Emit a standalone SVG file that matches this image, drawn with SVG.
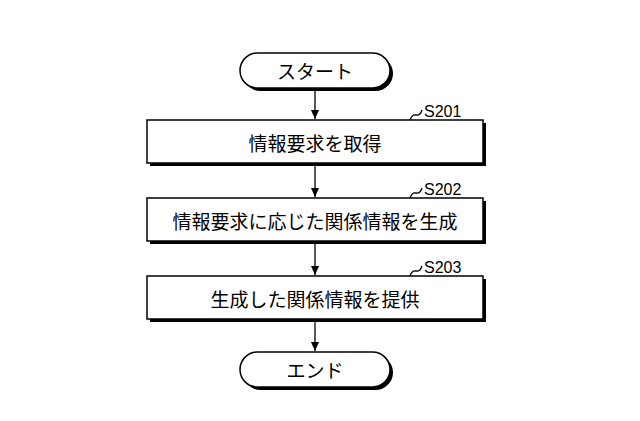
<svg xmlns="http://www.w3.org/2000/svg" width="640" height="421" viewBox="0 0 640 421">
<style>
.s{fill:#000}.b{fill:#fff;stroke:#000;stroke-width:1.5}
.t{font-family:"Noto Sans CJK JP",sans-serif;font-size:19px;text-anchor:middle;dominant-baseline:central}
.l{font-family:"Liberation Sans",sans-serif;font-size:16px}
.c{fill:none;stroke:#000;stroke-width:1.3}
</style>
<defs><marker id="a" markerWidth="10" markerHeight="10" refX="9" refY="5" orient="auto" markerUnits="userSpaceOnUse"><path d="M0,1 L9,5 L0,9 Z"/></marker></defs>
<rect width="640" height="421" fill="#fff"/>
<g id="start"><rect class="s" x="243" y="56" width="150" height="35" rx="17.5"/><rect class="b" x="240" y="53" width="150" height="35" rx="17.5"/><text class="t" x="315" y="70">スタート</text></g>
<g id="s201"><rect class="s" x="150" y="123" width="336" height="43"/><rect class="b" x="147" y="120" width="336" height="43"/><text class="t" x="315" y="142">情報要求を取得</text></g>
<g id="s202"><rect class="s" x="150" y="201" width="336" height="43"/><rect class="b" x="147" y="198" width="336" height="43"/><text class="t" x="315" y="220">情報要求に応じた関係情報を生成</text></g>
<g id="s203"><rect class="s" x="150" y="279" width="336" height="43"/><rect class="b" x="147" y="276" width="336" height="43"/><text class="t" x="315" y="298">生成した関係情報を提供</text></g>
<g id="end"><rect class="s" x="243" y="355" width="150" height="35" rx="17.5"/><rect class="b" x="240" y="352" width="150" height="35" rx="17.5"/><text class="t" x="315" y="369">エンド</text></g>
<g id="connectors">
<line class="c" x1="315" y1="88" x2="315" y2="119" marker-end="url(#a)"/>
<line class="c" x1="315" y1="163" x2="315" y2="197" marker-end="url(#a)"/>
<line class="c" x1="315" y1="241" x2="315" y2="275" marker-end="url(#a)"/>
<line class="c" x1="315" y1="319" x2="315" y2="351" marker-end="url(#a)"/>
<path class="c" d="M410,120 q2,-6 6,-5 q4,1 6,-5"/>
<path class="c" d="M410,198 q2,-6 6,-5 q4,1 6,-5"/>
<path class="c" d="M410,276 q2,-6 6,-5 q4,1 6,-5"/>
</g>
<text class="l" x="424" y="117">S201</text>
<text class="l" x="424" y="195">S202</text>
<text class="l" x="424" y="273">S203</text>
</svg>
